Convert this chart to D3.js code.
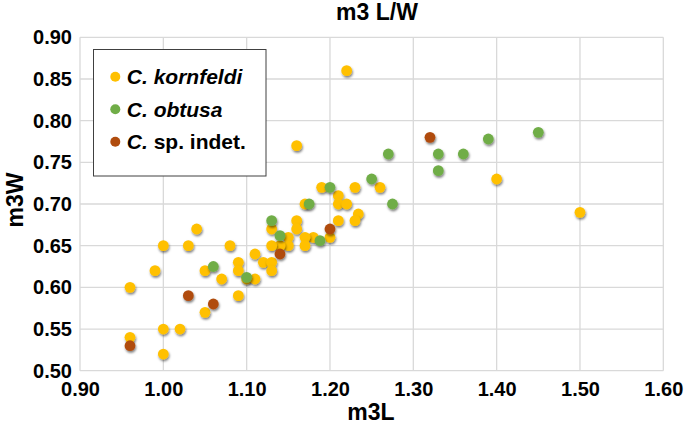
<!DOCTYPE html>
<html>
<head>
<meta charset="utf-8">
<script src="https://cdn.jsdelivr.net/npm/d3@7"></script>
<style>
  html, body { margin: 0; padding: 0; background: #fff; }
  svg { display: block; font-family: "Liberation Sans", Arial, sans-serif; }
  .grid line { stroke: #d9d9d9; stroke-width: 1.3; }
  .tick-label { font-size: 20px; font-weight: bold; fill: #000; }
  .chart-title { font-size: 23px; font-weight: bold; fill: #000; }
  .axis-title { font-size: 23px; font-weight: bold; fill: #000; }
  .legend-label { font-size: 21px; font-weight: bold; fill: #000; }
</style>
</head>
<body>
<div id="chart"></div>
<script>
// m3 length vs width, three taxa
const seriesNames = [
  [{ t: "C. kornfeldi", it: true }],
  [{ t: "C. obtusa", it: true }],
  [{ t: "C.", it: true }, { t: " sp. indet.", it: false }],
];
const seriesColors = ["#ffc000", "#70ad47", "#b04c0e"];

// [m3L, m3W]
const kornfeldi = [
  [1.22, 0.86], [1.16, 0.77], [1.40, 0.73], [1.50, 0.69],
  [1.26, 0.72], [1.23, 0.72], [1.19, 0.72], [1.21, 0.71], [1.21, 0.70], [1.22, 0.70], [1.17, 0.70],
  [1.234, 0.688], [1.23, 0.68], [1.21, 0.68], [1.16, 0.68], [1.16, 0.67], [1.13, 0.67],
  [1.20, 0.66], [1.18, 0.66], [1.17, 0.66], [1.15, 0.66], [1.17, 0.65], [1.15, 0.65], [1.14, 0.65], [1.13, 0.65],
  [1.11, 0.64], [1.12, 0.63], [1.13, 0.63], [1.13, 0.62], [1.09, 0.63], [1.09, 0.62],
  [1.10, 0.61], [1.11, 0.61], [1.07, 0.61],
  [1.08, 0.65], [1.04, 0.67], [1.03, 0.65], [1.00, 0.65], [1.05, 0.62], [0.99, 0.62], [0.96, 0.60],
  [1.09, 0.59], [1.05, 0.57], [1.00, 0.55], [1.02, 0.55], [0.96, 0.54], [1.00, 0.52],
];
const obtusa = [
  [1.45, 0.786], [1.39, 0.778], [1.36, 0.76], [1.33, 0.76], [1.33, 0.74], [1.27, 0.76],
  [1.25, 0.73], [1.20, 0.72], [1.275, 0.70], [1.175, 0.70], [1.13, 0.68], [1.14, 0.662],
  [1.188, 0.656], [1.06, 0.625], [1.10, 0.612],
];
const spIndet = [
  [1.32, 0.78], [1.20, 0.67], [1.14, 0.64], [1.03, 0.59], [1.06, 0.58], [0.96, 0.53],
];
const xTicks = [0.9, 1.0, 1.1, 1.2, 1.3, 1.4, 1.5, 1.6];
const yTicks = [0.5, 0.55, 0.6, 0.65, 0.7, 0.75, 0.8, 0.85, 0.9];

const W = 685, H = 429;
const M = { top: 37.3, right: 21.7, bottom: 58.3, left: 80 };
const fmt = d3.format(".2f");

const svg = d3.select("#chart").append("svg")
  .attr("width", W).attr("height", H);

// soft marker shadow, like the spreadsheet's outer shadow
const defs = svg.append("defs");
defs.append("filter").attr("id", "shadow")
  .attr("x", "-50%").attr("y", "-50%").attr("width", "200%").attr("height", "200%")
  .append("feDropShadow")
  .attr("dx", 0.8).attr("dy", 1.8).attr("stdDeviation", 1.2)
  .attr("flood-color", "#000").attr("flood-opacity", 0.5);

const x = d3.scaleLinear().domain([0.9, 1.6]).range([M.left, W - M.right]);
const y = d3.scaleLinear().domain([0.5, 0.9]).range([H - M.bottom, M.top]);

// gridlines
const grid = svg.append("g").attr("class", "grid");
grid.selectAll("line.gx").data(xTicks).join("line")
  .attr("class", "gx")
  .attr("x1", (d) => x(d)).attr("x2", (d) => x(d))
  .attr("y1", y(0.5)).attr("y2", y(0.9));
grid.selectAll("line.gy").data(yTicks).join("line")
  .attr("class", "gy")
  .attr("x1", x(0.9)).attr("x2", x(1.6))
  .attr("y1", (d) => y(d)).attr("y2", (d) => y(d));

// tick labels (axes drawn without domain lines; gridlines carry the frame)
const xAxis = svg.append("g")
  .attr("transform", `translate(0,${y(0.5)})`)
  .call(d3.axisBottom(x).tickValues(xTicks).tickFormat(fmt).tickSize(0).tickPadding(11));
const yAxis = svg.append("g")
  .attr("transform", `translate(${x(0.9)},0)`)
  .call(d3.axisLeft(y).tickValues(yTicks).tickFormat(fmt).tickSize(0).tickPadding(8));
[xAxis, yAxis].forEach((a) => {
  a.select(".domain").remove();
  a.selectAll("text").attr("class", "tick-label").attr("font-family", null).attr("font-size", null);
});

// titles
svg.append("text").attr("class", "chart-title")
  .attr("x", 377).attr("y", 20).attr("text-anchor", "middle").text("m3 L/W");
svg.append("text").attr("class", "axis-title")
  .attr("x", 371).attr("y", 420).attr("text-anchor", "middle").text("m3L");
svg.append("text").attr("class", "axis-title")
  .attr("transform", "translate(23,200) rotate(-90)")
  .attr("text-anchor", "middle").text("m3W");

// points, series drawn in legend order
const series = [kornfeldi, obtusa, spIndet];
series.forEach((pts, i) => {
  svg.append("g").selectAll("circle").data(pts).join("circle")
    .attr("cx", (d) => x(d[0]))
    .attr("cy", (d) => y(d[1]))
    .attr("r", 5.4)
    .attr("fill", seriesColors[i])
    .attr("filter", "url(#shadow)");
});

// legend
const lg = svg.append("g");
lg.append("rect")
  .attr("x", 93.5).attr("y", 49.5).attr("width", 172.5).attr("height", 126.5)
  .attr("fill", "#fff").attr("stroke", "#404040").attr("stroke-width", 1);
const rows = lg.selectAll("g.row").data(seriesNames).join("g")
  .attr("class", "row")
  .attr("transform", (d, i) => `translate(115.3,${76.7 + i * 32.5})`);
rows.append("circle").attr("r", 5).attr("fill", (d, i) => seriesColors[i]);
const labels = rows.append("text").attr("class", "legend-label")
  .attr("x", 11.5).attr("dy", "0.36em");
labels.selectAll("tspan").data((d) => d).join("tspan")
  .attr("font-style", (d) => (d.it ? "italic" : "normal"))
  .text((d) => d.t);
</script>
</body>
</html>
